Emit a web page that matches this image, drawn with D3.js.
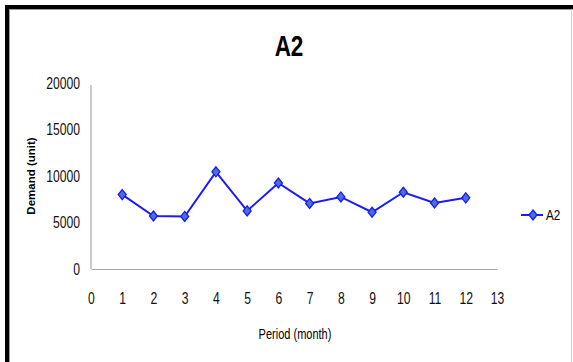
<!DOCTYPE html>
<html>
<head>
<meta charset="utf-8">
<script src="https://cdn.jsdelivr.net/npm/d3@7"></script>
<style>
  html, body { margin: 0; padding: 0; background: #fff; }
  svg { display: block; }
  text { font-family: "Liberation Sans", Arial, sans-serif; }
</style>
</head>
<body>
<svg id="chart" width="573" height="362"></svg>
<script>
// Monthly demand for item A2
const periods = [1, 2, 3, 4, 5, 6, 7, 8, 9, 10, 11, 12];
const demandA2 = [8000, 5700, 5650, 10450, 6250, 9250, 7050, 7750, 6100, 8250, 7100, 7650];
const xTicks = [0, 1, 2, 3, 4, 5, 6, 7, 8, 9, 10, 11, 12, 13];
const yTicks = [0, 5000, 10000, 15000, 20000];

const svg = d3.select("#chart");
const W = 573, H = 362;

// Squeeze a text element horizontally around its anchor point
function condense(sel, k) {
  sel.each(function () {
    const t = d3.select(this);
    const tx = +t.attr("x") || 0, ty = +t.attr("y") || 0;
    t.attr("x", 0).attr("y", 0)
     .attr("transform", `translate(${tx},${ty}) scale(${k},1)`);
  });
}

// Outer frame: heavy black top/left edges, light inner rule
svg.append("rect").attr("x", 0).attr("y", 0).attr("width", W).attr("height", H).attr("fill", "#fff");
svg.append("rect").attr("x", 5).attr("y", 5).attr("width", W - 5).attr("height", 4).attr("fill", "#000");
svg.append("rect").attr("x", 5).attr("y", 5).attr("width", 4).attr("height", H - 5).attr("fill", "#000");
svg.append("line").attr("x1", 9).attr("x2", W).attr("y1", 9.5).attr("y2", 9.5).attr("stroke", "#9a9a9a").attr("stroke-width", 1);
svg.append("line").attr("x1", 9.5).attr("x2", 9.5).attr("y1", 9).attr("y2", H).attr("stroke", "#9a9a9a").attr("stroke-width", 1);
svg.append("line").attr("x1", 571.5).attr("x2", 571.5).attr("y1", 9).attr("y2", H).attr("stroke", "#cfcfcf").attr("stroke-width", 1);

const x = d3.scaleLinear().domain([0, 13]).range([91, 497]);
const y = d3.scaleLinear().domain([0, 20000]).range([269, 83]);

// Title
svg.append("text")
  .attr("x", 289).attr("y", 56)
  .attr("text-anchor", "middle")
  .attr("font-size", 30).attr("font-weight", "bold")
  .text("A2")
  .call(condense, 0.75);

// Axes (no tick marks, grey domain lines)
const yAxis = svg.append("g").attr("transform", "translate(91,0)")
  .call(d3.axisLeft(y).tickValues(yTicks).tickSize(0).tickPadding(11).tickFormat(d3.format("d")));
const xAxis = svg.append("g").attr("transform", "translate(0,269)")
  .call(d3.axisBottom(x).tickValues(xTicks).tickSize(0).tickPadding(24).tickFormat(d3.format("d")));

[yAxis, xAxis].forEach(g => {
  g.select(".domain").attr("stroke", "#a6a6a6").attr("stroke-width", 1.2);
  g.selectAll("text")
    .attr("font-family", "'Liberation Sans', sans-serif")
    .attr("font-size", 16).attr("fill", "#111")
    .call(condense, 0.76);
});
yAxis.select(".domain").attr("d", `M0,${y(0)}V85`);

// Axis titles
svg.append("text")
  .attr("transform", `translate(35,${y(10000)}) rotate(-90)`)
  .attr("text-anchor", "middle")
  .attr("font-family", "'DejaVu Sans', sans-serif")
  .attr("font-size", 11.5).attr("font-weight", "bold")
  .text("Demand (unit)");

svg.append("text")
  .attr("x", 295).attr("y", 339)
  .attr("text-anchor", "middle")
  .attr("font-size", 14.5)
  .text("Period (month)")
  .call(condense, 0.76);

// Series line and diamond markers
const lineColor = "#1a1aff";
const markerFill = "#4a6fd6";
const data = periods.map((p, i) => ({ p, v: demandA2[i] }));

svg.append("path").datum(data)
  .attr("fill", "none").attr("stroke", lineColor).attr("stroke-width", 2)
  .attr("d", d3.line().x(d => x(d.p)).y(d => y(d.v)));

const diamond = (cx, cy) => `M${cx},${cy - 5}L${cx + 4},${cy}L${cx},${cy + 5}L${cx - 4},${cy}Z`;
svg.selectAll(".pt").data(data).join("path")
  .attr("class", "pt")
  .attr("d", d => diamond(x(d.p), y(d.v)))
  .attr("fill", markerFill).attr("stroke", lineColor).attr("stroke-width", 1.3);

// Legend
const ly = 215;
svg.append("line").attr("x1", 521).attr("x2", 543).attr("y1", ly).attr("y2", ly)
  .attr("stroke", lineColor).attr("stroke-width", 2);
svg.append("path").attr("d", diamond(533, ly))
  .attr("fill", markerFill).attr("stroke", lineColor).attr("stroke-width", 1.3);
svg.append("text")
  .attr("x", 546).attr("y", ly + 5)
  .attr("font-size", 15)
  .text("A2")
  .call(condense, 0.78);
</script>
</body>
</html>
